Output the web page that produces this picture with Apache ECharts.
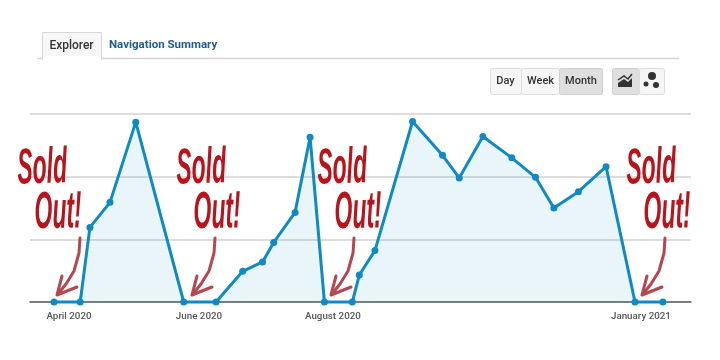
<!DOCTYPE html>
<html><head><meta charset="utf-8">
<style>html,body{margin:0;padding:0;background:#fff}#c{width:720px;height:360px}</style>
<script src="https://cdn.jsdelivr.net/npm/echarts@6/dist/echarts.min.js"></script>
</head><body><div id="c"></div>
<script>
// x: days since 1 April 2020; y: read on a 0-300 scale
const xDays = [0,12.4,17,26.5,38.7,61.4,76.7,89.3,98.7,104,114.1,121.2,128,141.2,144.5,151.9,169.7,183.9,191.8,203,216.7,227.9,236.6,248.2,261.3,275,288.2];
const sessions = [0,0,119,159,287,0,0,49,64,95,143,263,0,0,43,82,288,234,198,264,230,199,150,176,216,0,0];
const tickDays = [7.1,68.6,132,277.8];
const tickLabels = ['April 2020','June 2020','August 2020','January 2021'];
const tabs = ['Explorer','Navigation Summary'];
const rangeButtons = ['Day','Week','Month'];
const note = ['Sold','Out!'];

const chart = echarts.init(document.getElementById('c'), null, {renderer:'canvas'});
const FONT = 'Roboto, "Liberation Sans", sans-serif';
const RED = '#b8141c', ARROW = '#b4474f';

function soldOut(x, ax){
  return [
    {type:'text', z:20, x:x, y:195, rotation:0.03, scaleX:0.5, scaleY:1.1,
     style:{text:note[0], font:'italic bold 46px "Liberation Sans Narrow", sans-serif', fill:RED, textVerticalAlign:'bottom'}},
    {type:'text', z:20, x:x+17, y:240, rotation:0.02, scaleX:0.5, scaleY:1.14,
     style:{text:note[1], font:'italic bold 46px "Liberation Sans Narrow", sans-serif', fill:RED, textVerticalAlign:'bottom'}},
    {type:'polyline', z:19, x:ax, y:237, shape:{points:[[0,1],[-1,16],[-6,34],[-14,47],[-22,57]]},
     style:{stroke:ARROW, lineWidth:3, fill:null, lineCap:'round', lineJoin:'round'}},
    {type:'polyline', z:19, x:ax, y:237, shape:{points:[[-18,39],[-23,58],[-3,50]]},
     style:{stroke:ARROW, lineWidth:3, fill:null, lineCap:'round', lineJoin:'round'}}
  ];
}
const btn = (x,w,active)=>({type:'rect', z:5, shape:{x:x+.5,y:68.5,width:w,height:26,r:2},
  style:{fill:active?'#dfdfdf':'#f6f6f6', stroke:active?'#cfcfcf':'#dedede', lineWidth:1}});
const lbl = (x,y,t,c,f)=>({type:'text', z:6, x:x, y:y, style:{text:t, fill:c, font:f, textAlign:'center', textVerticalAlign:'middle'}});

const graphic = [
  {type:'line', z:1, shape:{x1:37,y1:58.5,x2:679,y2:58.5}, style:{stroke:'#d6d6d6',lineWidth:1.5}},
  {type:'rect', z:2, shape:{x:42.5,y:32.5,width:59,height:26}, style:{fill:'#f7f7f7',stroke:'#d8d8d8',lineWidth:1}},
  {type:'rect', z:3, shape:{x:43,y:56,width:58,height:4}, style:{fill:'#fff'}},
  lbl(71.5,46,tabs[0],'#333','500 12px '+FONT),
  {type:'text', z:6, x:109, y:45, style:{text:tabs[1], fill:'#1f5c92', font:'bold 11.5px '+FONT, textVerticalAlign:'middle'}},
  btn(490,31,false), btn(521,38,false), btn(559,43,true),
  lbl(505.5,81.5,rangeButtons[0],'#333','500 11px '+FONT),
  lbl(540.5,81.5,rangeButtons[1],'#333','500 11px '+FONT),
  lbl(581,81.5,rangeButtons[2],'#333','500 11px '+FONT),
  btn(612,27,true), btn(639,25,false),
  {type:'polygon', z:7, shape:{points:[[618,87],[618,83],[624,79],[628,82],[632,78],[632,87]]}, style:{fill:'#333'}},
  {type:'polyline', z:7, shape:{points:[[618,80],[624,76],[628,79],[632,74]]}, style:{stroke:'#333',lineWidth:1.5,fill:null}},
  {type:'circle', z:7, shape:{cx:652,cy:76,r:4}, style:{fill:'#333'}},
  {type:'circle', z:7, shape:{cx:646,cy:84,r:2.5}, style:{fill:'#333'}},
  {type:'circle', z:7, shape:{cx:656,cy:85,r:3}, style:{fill:'#333'}},
  ...soldOut(18,80), ...soldOut(177,215), ...soldOut(318,354), ...soldOut(627,665)
];

chart.setOption({
  animation:false,
  grid:{left:30,right:29,top:114,bottom:58},
  xAxis:{type:'value', min:-11.36, max:301.5, splitLine:{show:false},
    axisLine:{show:true,lineStyle:{color:'#5a5f63',width:1.5}}, axisTick:{show:false},
    axisLabel:{customValues:tickDays, color:'#555', margin:10,
      fontFamily:'Roboto, sans-serif', fontSize:9.8, fontWeight:500,
      formatter:v=>tickLabels[tickDays.indexOf(v)]}},
  yAxis:{type:'value', min:0, max:300, interval:100,
    axisLine:{show:false}, axisTick:{show:false}, axisLabel:{show:false},
    splitLine:{lineStyle:{color:'#d2d2d2',width:1.5}}},
  series:[
    {type:'line', data:xDays.map((d,i)=>[d,sessions[i]]), smooth:false, z:3, clip:false,
     symbol:'circle', symbolSize:7, showSymbol:true,
     itemStyle:{color:'#0f8ac2'}, lineStyle:{color:'#0f8ac2',width:3},
     areaStyle:{color:'rgba(15,140,196,0.12)'}}
  ],
  graphic
});
</script></body></html>
